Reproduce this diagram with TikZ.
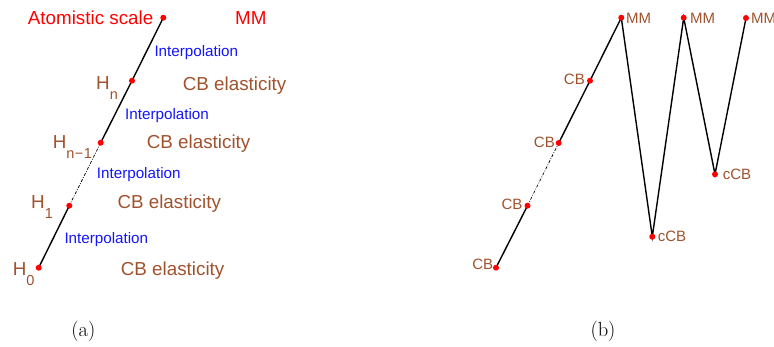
\documentclass[tikz,border=0pt]{standalone}
\usepackage{fontspec}
\setmainfont{Latin Modern Roman}
\newfontfamily\arialfont{Liberation Sans}
\definecolor{ptred}{RGB}{255,0,0}
\definecolor{cbbrown}{RGB}{160,82,45}
\definecolor{interblue}{RGB}{20,20,255}
\tikzset{
  big/.style={inner sep=0pt, font=\arialfont\fontsize{18.8}{20}\selectfont},
  interp/.style={inner sep=0pt, text=interblue, font=\arialfont\fontsize{15.2}{16}\selectfont},
  small/.style={inner sep=0pt, text=cbbrown, font=\arialfont\fontsize{15}{16}\selectfont},
  caption/.style={inner sep=0pt, anchor=base, font=\fontsize{20.5}{22}\selectfont},
  seg/.style={line width=1.4pt, black},
  gapseg/.style={line width=0.7pt, black, dash pattern=on 3pt off 1.5pt on 0.8pt off 1.5pt},
  dot/.style={fill=ptred}
}
\newcommand{\Hsub}[1]{H\raisebox{-10pt}{\fontsize{14.5}{15}\selectfont #1}}
\begin{document}
\begin{tikzpicture}[x=1pt,y=-1pt]
\useasboundingbox (0,0) rectangle (774,347);

% ---------- (a) hierarchy of scales ----------
\coordinate (a5) at (163.3,17.7);
\coordinate (a4) at (132,80.7);
\coordinate (a3) at (100.7,142.7);
\coordinate (a2) at (69.3,205.7);
\coordinate (a1) at (38.7,267.7);
\draw[seg] (a5) -- (a4) -- (a3);
\draw[gapseg] (a3) -- (a2);
\draw[seg] (a2) -- (a1);
\foreach \p in {a1,a2,a3,a4,a5} \fill[dot] (\p) circle (3pt);

\node[big, text=ptred, anchor=base west] (atom) at (27.7,24.5) {Atomistic scale};
\node[big, text=ptred, anchor=base west] (mmA) at (235,24.5) {MM};

\node[interp, anchor=base west] (ia) at (154.3,56.9) {Interpolation};
\node[interp, anchor=base west] (ib) at (125,119.2) {Interpolation};
\node[interp, anchor=base west] (ic) at (96.7,178.2) {Interpolation};
\node[interp, anchor=base west] (id) at (64.3,243.6) {Interpolation};

\node[big, text=cbbrown, anchor=base west] (ea) at (182.7,90.2) {CB elasticity};
\node[big, text=cbbrown, anchor=base west] (eb) at (146.7,148.5) {CB elasticity};
\node[big, text=cbbrown, anchor=base west] (ec) at (117.3,208.5) {CB elasticity};
\node[big, text=cbbrown, anchor=base west] (ed) at (120.7,275.2) {CB elasticity};

\node[big, text=cbbrown, anchor=base west] (hn) at (96,90) {\Hsub{n}};
\node[big, text=cbbrown, anchor=base west] (hm) at (52.6,148.3) {\Hsub{n\hspace{0.5pt}−\hspace{0.5pt}1}};
\node[big, text=cbbrown, anchor=base west] (h1) at (31,208.3) {\Hsub{1}};
\node[big, text=cbbrown, anchor=base west] (h0) at (12.6,276) {\Hsub{0}};

\node[caption] (capa) at (83.3,337) {(a)};

% ---------- (b) path through the scales ----------
\coordinate (b1) at (496,267.7);
\coordinate (b2) at (527.5,205.7);
\coordinate (b3) at (558.7,143);
\coordinate (b4) at (590,80.7);
\coordinate (b5) at (621.3,17.7);
\coordinate (b6) at (652.3,236.7);
\coordinate (b7) at (683.7,17.7);
\coordinate (b8) at (715,174.3);
\coordinate (b9) at (746,18);
\draw[seg] (b1) -- (b2);
\draw[gapseg] (b2) -- (b3);
\draw[seg, line join=miter] (b3) -- (b4) -- (b5) -- (b6) -- (b7) -- (b8) -- (b9);
\foreach \p in {b1,b2,b3,b4,b5,b6,b7,b8,b9} \fill[dot] (\p) circle (3pt);

\node[small, anchor=base east] (cb1) at (493.3,270) {CB};
\node[small, anchor=base east] (cb2) at (522.7,209.7) {CB};
\node[small, anchor=base east] (cb3) at (555,147.4) {CB};
\node[small, anchor=base east] (cb4) at (585,84.7) {CB};
\node[small, anchor=base west] (mm1) at (626,24) {MM};
\node[small, anchor=base west] (mm2) at (690,24) {MM};
\node[small, anchor=base west] (mm3) at (751,24) {MM};
\node[small, anchor=base west] (cc1) at (657.7,241.4) {cCB};
\node[small, anchor=base west] (cc2) at (722.7,179.4) {cCB};

\node[caption] (capb) at (603,337) {(b)};
\end{tikzpicture}
\end{document}
